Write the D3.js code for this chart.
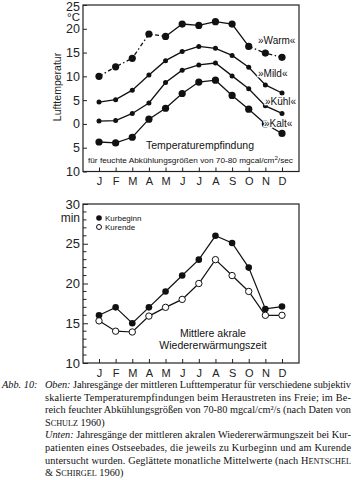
<!DOCTYPE html>
<html><head><meta charset="utf-8">
<script src="https://cdn.jsdelivr.net/npm/d3@7"></script>
<style>
body{margin:0;background:#fff}
svg{display:block}
</style></head>
<body>
<svg id="c" width="355" height="480"></svg>
<script>
const months = ["J","F","M","A","M","J","J","A","S","O","N","D"];
const warm = [10, 12, 13.8, 18.9, 18.4, 21, 20.7, 21.5, 21, 16.3, 14.9, 14];
const mild = [4.6, 5.1, 7.1, 10.3, 13.3, 15.2, 16.3, 15.9, 14.4, 11.9, 8.2, 6.5];
const kuehl = [0.6, 0.7, 2.2, 4.4, 8.7, 11.3, 12.4, 12.8, 10.1, 7.4, 3.8, 2.2];
const kalt = [-3.8, -4, -2.8, 1, 3.3, 6.4, 8.8, 9.2, 6, 3.1, 0, -2];
const tempTicks = [-10, -5, 0, 5, 10, 15, 20, 25];
const kurbeginn = [16, 17, 15, 17, 19, 21, 23, 26, 25.1, 22, 16.8, 17.1];
const kurende = [15.3, 14, 13.9, 15.9, 17, 18, 20, 23, 21, 19, 16, 16];
const minTicks = [10, 15, 20, 25, 30];
const seriesLabels = ["»Warm«", "»Mild«", "»Kühl«", "»Kalt«"];

const svg = d3.select("#c");
const sans = "'Liberation Sans', Arial, sans-serif";
const serif = "'Liberation Serif', 'DejaVu Serif', serif";
const idx = d3.range(12);
const x = d3.scaleLinear().domain([0, 11]).range([99, 282]);
const L = 83, R = 299;

// ---------- TOP CHART ----------
const yT = d3.scaleLinear().domain([-10, 25]).range([171.5, 5]);
const gTop = svg.append("g");
gTop.append("rect").attr("x", L).attr("y", yT(25)).attr("width", R - L).attr("height", yT(-10) - yT(25))
  .attr("fill", "none").attr("stroke", "#222").attr("stroke-width", 1.2);

const axLT = d3.axisLeft(yT).tickValues(tempTicks).tickSize(-4).tickPadding(3).tickFormat(d => Math.abs(d));
const gLT = gTop.append("g").attr("transform", `translate(${L},0)`).call(axLT);
gLT.select(".domain").remove();
gLT.selectAll("line").attr("stroke", "#222");
gLT.selectAll("text").attr("font-family", sans).attr("font-size", 12.5).attr("fill", "#222");
gLT.selectAll(".tick").filter(d => d === 25).select("text").attr("dy", "0.4em");

const axBT = d3.axisBottom(x).tickValues(idx).tickSize(-4).tickPadding(6).tickFormat(i => months[i]);
const gBT = gTop.append("g").attr("transform", `translate(0,${yT(-10)})`).call(axBT);
gBT.select(".domain").remove();
gBT.selectAll("line").attr("stroke", "#222");
gBT.selectAll("text").attr("font-family", sans).attr("font-size", 11).attr("fill", "#222");

gTop.append("text").attr("x", 80).attr("y", 21).attr("text-anchor", "end")
  .attr("font-family", sans).attr("font-size", 11.5).attr("fill", "#222").text("°C");
gTop.append("text").attr("transform", "translate(61,87) rotate(-90)").attr("text-anchor", "middle")
  .attr("font-family", sans).attr("font-size", 10.5).attr("fill", "#222").text("Lufttemperatur");

const line = d3.line().x((d, i) => x(i)).y(d => yT(d));
const lineSeg = (data, a, b) => d3.line().x(i => x(i)).y(i => yT(data[i]))(d3.range(a, b + 1));

gTop.append("path").attr("d", lineSeg(warm, 0, 4)).attr("fill", "none").attr("stroke", "#111")
  .attr("stroke-width", 1.3).attr("stroke-dasharray", "4,2.5,1.5,2.5");
gTop.append("path").attr("d", lineSeg(warm, 4, 9)).attr("fill", "none").attr("stroke", "#111").attr("stroke-width", 1.3);
gTop.append("path").attr("d", lineSeg(warm, 9, 11)).attr("fill", "none").attr("stroke", "#111")
  .attr("stroke-width", 1.3).attr("stroke-dasharray", "4,2.5,1.5,2.5");

[mild, kuehl, kalt].forEach(data => {
  gTop.append("path").attr("d", line(data)).attr("fill", "none").attr("stroke", "#111").attr("stroke-width", 1.3);
});
[[warm, 3.6], [mild, 2.5], [kuehl, 2.5], [kalt, 3.6]].forEach(([data, r]) => {
  gTop.selectAll(null).data(data).join("circle").attr("cx", (d, i) => x(i)).attr("cy", d => yT(d))
    .attr("r", r).attr("fill", "#111");
});

const labPos = [[258, 44], [258, 77], [265, 105], [264, 127]];
seriesLabels.forEach((t, i) => {
  gTop.append("text").attr("x", labPos[i][0]).attr("y", labPos[i][1])
    .attr("font-family", sans).attr("font-size", 10).attr("fill", "#111")
    .attr("stroke", "#fff").attr("stroke-width", 2.5).attr("paint-order", "stroke").text(t);
});
gTop.append("text").attr("x", 146).attr("y", 149).attr("font-family", sans).attr("font-size", 10.5)
  .attr("fill", "#111").text("Temperaturempfindung");
const sub = gTop.append("text").attr("x", 88).attr("y", 162.5).attr("font-family", sans).attr("font-size", 7.3)
  .attr("fill", "#111").attr("textLength", 205).attr("lengthAdjust", "spacingAndGlyphs");
sub.append("tspan").text("für feuchte Abkühlungsgrößen von 70-80 mgcal/cm");
sub.append("tspan").attr("dy", -3).attr("font-size", 5.5).text("2");
sub.append("tspan").attr("dy", 3).text("/sec");

// ---------- BOTTOM CHART ----------
const yB = d3.scaleLinear().domain([10, 30]).range([363, 204]);
const gBot = svg.append("g");
gBot.append("rect").attr("x", L).attr("y", yB(30)).attr("width", R - L).attr("height", yB(10) - yB(30))
  .attr("fill", "none").attr("stroke", "#222").attr("stroke-width", 1.2);
const axLB = d3.axisLeft(yB).tickValues(minTicks).tickSize(-5).tickPadding(3);
const gLB = gBot.append("g").attr("transform", `translate(${L},0)`).call(axLB);
gLB.select(".domain").remove();
gLB.selectAll("line").attr("stroke", "#222");
gLB.selectAll("text").attr("font-family", sans).attr("font-size", 13).attr("fill", "#222");
const minor = d3.range(11, 30).filter(v => v % 5 !== 0);
gBot.selectAll(null).data(minor).join("line").attr("x1", L).attr("x2", L + 3.5)
  .attr("y1", d => yB(d)).attr("y2", d => yB(d)).attr("stroke", "#222");
gBot.append("text").attr("x", 80).attr("y", 222).attr("text-anchor", "end")
  .attr("font-family", sans).attr("font-size", 12).attr("fill", "#222").text("min");

const axBB = d3.axisBottom(x).tickValues(idx).tickSize(-4).tickPadding(6).tickFormat(i => months[i]);
const gBB = gBot.append("g").attr("transform", `translate(0,${yB(10)})`).call(axBB);
gBB.select(".domain").remove();
gBB.selectAll("line").attr("stroke", "#222");
gBB.selectAll("text").attr("font-family", sans).attr("font-size", 11).attr("fill", "#222");

const lineB = d3.line().x((d, i) => x(i)).y(d => yB(d));
gBot.append("path").attr("d", lineB(kurende)).attr("fill", "none").attr("stroke", "#111").attr("stroke-width", 1.2);
gBot.append("path").attr("d", lineB(kurbeginn)).attr("fill", "none").attr("stroke", "#111").attr("stroke-width", 1.2);
gBot.selectAll(null).data(kurbeginn).join("circle").attr("cx", (d, i) => x(i)).attr("cy", d => yB(d))
  .attr("r", 3.3).attr("fill", "#111");
gBot.selectAll(null).data(kurende).join("circle").attr("cx", (d, i) => x(i)).attr("cy", d => yB(d))
  .attr("r", 3.2).attr("fill", "#fff").attr("stroke", "#111").attr("stroke-width", 1);

gBot.append("circle").attr("cx", 99).attr("cy", 218).attr("r", 2.8).attr("fill", "#111");
gBot.append("circle").attr("cx", 99).attr("cy", 227).attr("r", 2.5).attr("fill", "#fff").attr("stroke", "#111");
gBot.append("text").attr("x", 105).attr("y", 221).attr("font-family", sans).attr("font-size", 8).attr("fill", "#111").text("Kurbeginn");
gBot.append("text").attr("x", 105).attr("y", 230).attr("font-family", sans).attr("font-size", 8).attr("fill", "#111").text("Kurende");
gBot.append("text").attr("x", 213).attr("y", 337).attr("text-anchor", "middle").attr("font-family", sans)
  .attr("font-size", 10.5).attr("fill", "#111").text("Mittlere akrale");
gBot.append("text").attr("x", 213).attr("y", 349).attr("text-anchor", "middle").attr("font-family", sans)
  .attr("font-size", 10.5).attr("fill", "#111").text("Wiedererwärmungszeit");

// ---------- CAPTION ----------
const cap = svg.append("g").attr("font-family", serif).attr("font-size", 10.3).attr("fill", "#111");
cap.append("text").attr("x", 2).attr("y", 388).attr("font-style", "italic").text("Abb. 10:");
const lines = [
  [[["Oben:", "i"], [" Jahresgänge der mittleren Lufttemperatur für verschiedene subjektiv", ""]], true],
  [[["skalierte Temperaturempfindungen beim Heraustreten ins Freie; im Be-", ""]], true],
  [[["reich feuchter Abkühlungsgrößen von 70-80 mgcal/cm²/s (nach Daten von", ""]], true],
  [[["S", ""], ["CHULZ", "sc"], [" 1960)", ""]], false],
  [[["Unten:", "i"], [" Jahresgänge der mittleren akralen Wiedererwärmungszeit bei Kur-", ""]], true],
  [[["patienten eines Ostseebades, die jeweils zu Kurbeginn und am Kurende", ""]], true],
  [[["untersucht wurden. Geglättete monatliche Mittelwerte (nach H", ""], ["ENTSCHEL", "sc"]], true],
  [[["& S", ""], ["CHIRGEL", "sc"], [" 1960)", ""]], false]
];
lines.forEach(([parts, just], k) => {
  const t = cap.append("text").attr("x", 45).attr("y", 388 + k * 12.6);
  if (just) t.attr("textLength", 306).attr("lengthAdjust", "spacing");
  parts.forEach(([s, st]) => {
    const ts = t.append("tspan").text(s);
    if (st === "i") ts.attr("font-style", "italic");
    if (st === "sc") ts.attr("font-size", 8.2);
  });
});
</script>
</body></html>
